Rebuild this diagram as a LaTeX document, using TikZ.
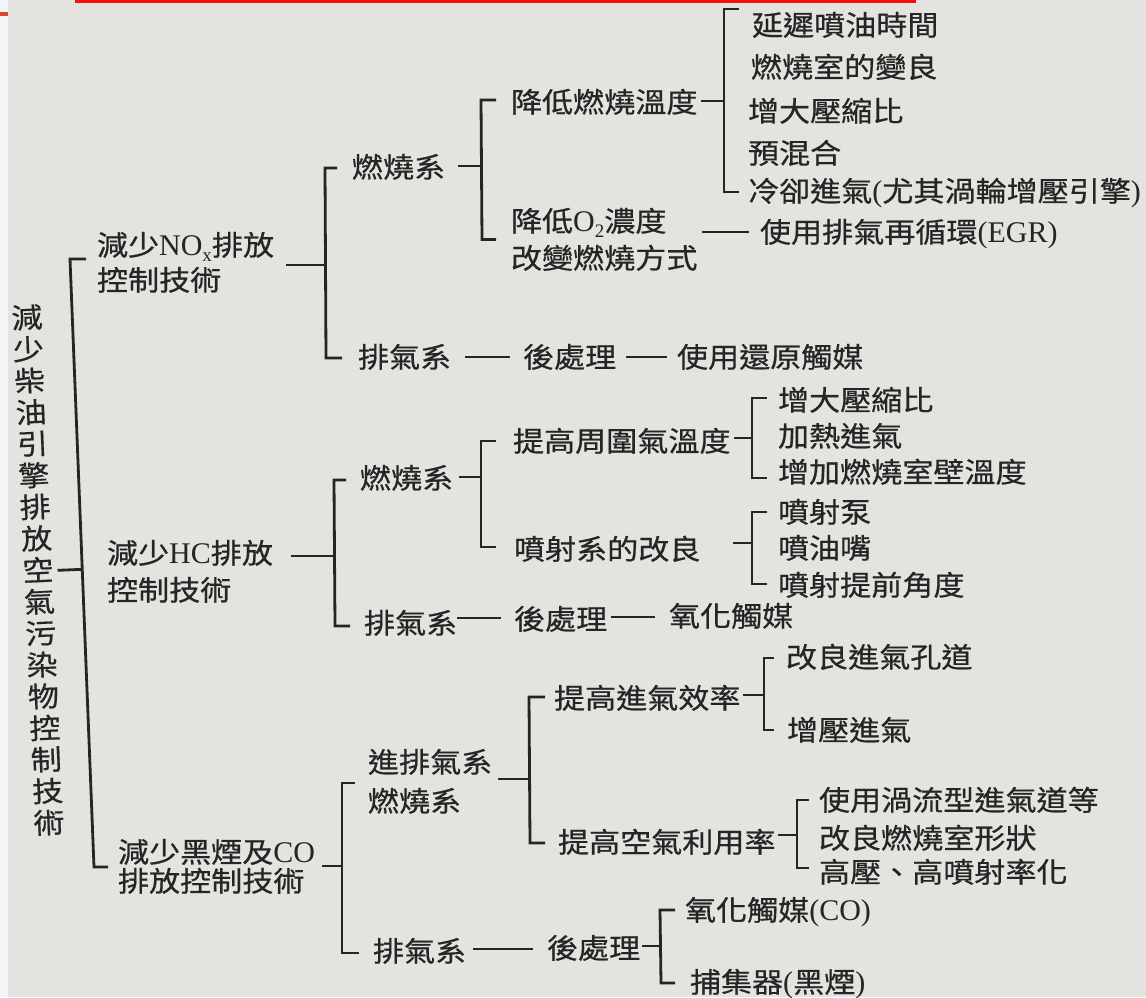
\documentclass[tikz,border=0pt]{standalone}
\usepackage{fontspec}
\setmainfont{Liberation Serif}
\newfontfamily\cjk[FakeStretch=1.11,FakeBold=0.6]{Noto Sans CJK TC}
\usetikzlibrary{calc}
\definecolor{bgc}{HTML}{E4E3DF}
\definecolor{ink}{HTML}{252525}
\definecolor{stripc}{HTML}{F4F4F4}
\definecolor{barred}{HTML}{F21010}
\definecolor{markred}{HTML}{D8472A}
\newcommand\lt[1]{{\rmfamily\fontsize{30}{30}\selectfont #1}}
\newcommand\sbx{\raisebox{-6pt}{\rmfamily\fontsize{19}{19}\selectfont x}}
\newcommand\sbtwo{\raisebox{-6pt}{\rmfamily\fontsize{19}{19}\selectfont 2}}
\begin{document}
\begin{tikzpicture}[x=1pt,y=-1pt,
  lbl/.style={anchor=west,inner sep=0pt,outer sep=0pt,text=ink,
    font=\cjk\fontsize{28}{30}\selectfont,text height=24.5pt,text depth=3.5pt},
  rootlbl/.style={inner sep=0pt,outer sep=0pt,text=ink,align=center,
    font=\cjk\fontsize{28}{31.6}\selectfont,rotate=2.5},
  ln/.style={draw=ink,line width=2.8pt,line join=miter}]
\useasboundingbox (0,0) rectangle (1146,997);
\fill[bgc] (0,0) rectangle (1146,997);
\fill[stripc] (0,0) rectangle (8,997);
\fill[markred] (0,12) rectangle (8,16);
\fill[barred] (75,0) rectangle (916,2.5);

% ---------- root ----------
\node[rootlbl] (R) at (38,570) {減\\少\\柴\\油\\引\\擎\\排\\放\\空\\氣\\污\\染\\物\\控\\制\\技\\術};

% ---------- level 1 ----------
\node[lbl] (nA1) at (97,245) {減少\lt{NO}\sbx 排放};
\node[lbl] (nA2) at (97,280) {控制技術};
\node[lbl] (nB1) at (107,553) {減少\lt{HC}排放};
\node[lbl] (nB2) at (107,590) {控制技術};
\node[lbl] (nC1) at (118,852) {減少黑煙及\lt{CO}};
\node[lbl] (nC2) at (118,881) {排放控制技術};

\coordinate (rt) at (70,259);
\coordinate (rb) at (94,867);
\draw[ln] ($(nA1.west)+(-11,14)$) -- (rt) -- (rb) -- ($(nC1.west)+(-10,15)$);
\coordinate (rm) at ($(R.east)+(4,1)$);
\draw[ln] (rm) -- ($(rt)!(rm)!(rb)$);

% ---------- NOx branch ----------
\node[lbl] (kA) at (352,167) {燃燒系};
\node[lbl] (xA) at (358,357) {排氣系};
\draw[ln] ($(nA1.east)+(12,20)$) -- (325,265);
\draw[ln] ($(kA.west)+(-15,1)$) -- (325,168) -- (326,358) -- ($(xA.west)+(-16,1)$);

\node[lbl] (d1) at (511,102) {降低燃燒溫度};
\node[lbl] (d2) at (511,221) {降低\lt{O}\sbtwo 濃度};
\node[lbl] (d3) at (511,258) {改變燃燒方式};
\draw[ln] ($(kA.east)+(13,-1)$) -- (481,166);
\draw[ln] ($(d1.west)+(-15,-2)$) -- (481,100) -- (482,239.5) -- ($(d2.west)!0.5!(d3.west)+(-15,0)$);

\node[lbl] (e1) at (752,25) {延遲噴油時間};
\node[lbl] (e2) at (751,67) {燃燒室的變良};
\node[lbl] (e3) at (748,111) {增大壓縮比};
\node[lbl] (e4) at (748,153) {預混合};
\node[lbl] (e5) at (748,191) {冷卻進氣\lt{(}尤其渦輪增壓引擎\lt{)}};
\draw[ln] ($(d1.east)+(4,-1)$) -- (724,101);
\draw[ln] ($(e1.west)+(-13,-16)$) -- (724,9) -- (724,192) -- ($(e5.west)+(-9,1)$);

\node[lbl] (egr) at (760,232) {使用排氣再循環\lt{(EGR)}};
\draw[ln] ($(d3.east)+(5,-26)$) -- ($(egr.west)+(-11,0)$);

\node[lbl] (hA) at (523,357) {後處理};
\node[lbl] (cA) at (677,357) {使用還原觸媒};
\draw[ln] ($(xA.east)+(14,0)$) -- ($(hA.west)+(-13,0)$);
\draw[ln] ($(hA.east)+(10,0)$) -- ($(cA.west)+(-10,0)$);

% ---------- HC branch ----------
\node[lbl] (kB) at (360,478) {燃燒系};
\node[lbl] (xB) at (364,623) {排氣系};
\draw[ln] ($(nB1.east)+(18,3)$) -- (334,556);
\draw[ln] ($(kB.west)+(-14,2)$) -- (334,480) -- (335,626) -- ($(xB.west)+(-14,3)$);

\node[lbl] (f1) at (513,441) {提高周圍氣溫度};
\node[lbl] (f2) at (514,549) {噴射系的改良};
\draw[ln] ($(kB.east)+(6,-1)$) -- (481,477);
\draw[ln] ($(f1.west)+(-17,0)$) -- (481,441) -- (481,547) -- ($(f2.west)+(-18,-2)$);

\node[lbl] (g1) at (778,400) {增大壓縮比};
\node[lbl] (g2) at (778,436) {加熱進氣};
\node[lbl] (g3) at (778,472) {增加燃燒室壁溫度};
\draw[ln] ($(f1.east)+(3,-3)$) -- (752,438);
\draw[ln] ($(g1.west)+(-11,-2)$) -- (752,398) -- (752,478) -- ($(g3.west)+(-11,6)$);

\node[lbl] (h1) at (778,512) {噴射泵};
\node[lbl] (h2) at (778,548) {噴油嘴};
\node[lbl] (h3) at (778,585) {噴射提前角度};
\draw[ln] ($(f2.east)+(33,-6)$) -- (752,543);
\draw[ln] ($(h1.west)+(-11,0)$) -- (752,512) -- (752,584) -- ($(h3.west)+(-11,-1)$);

\node[lbl] (hB) at (514,619) {後處理};
\node[lbl] (oB) at (669,616) {氧化觸媒};
\draw[ln] ($(xB.east)+(0,-5)$) -- ($(hB.west)+(-13,-1)$);
\draw[ln] ($(hB.east)+(4,-2)$) -- ($(oB.west)+(-14,1)$);

% ---------- soot / CO branch ----------
\node[lbl] (pC) at (368,762) {進排氣系};
\node[lbl] (pC2) at (368,801) {燃燒系};
\node[lbl] (xC) at (373,951) {排氣系};
\draw[ln] ($(nC1.east)+(7,14)$) -- (342,866);
\draw[ln] ($(pC.west)+(-13,21)$) -- (342,783) -- (342,953) -- ($(xC.west)+(-14,2)$);

\node[lbl] (q1) at (554,698) {提高進氣效率};
\node[lbl] (q2) at (558,842) {提高空氣利用率};
\draw[ln] ($(pC.east)+(6,17)$) -- (529,779);
\draw[ln] ($(q1.west)+(-9,-1)$) -- (529,697) -- (530,843) -- ($(q2.west)+(-13,1)$);

\node[lbl] (r1) at (786,657) {改良進氣孔道};
\node[lbl] (r2) at (787,730) {增壓進氣};
\draw[ln] ($(q1.east)+(3,-3)$) -- (764,695);
\draw[ln] ($(r1.west)+(-12,1)$) -- (764,658) -- (764,730) -- ($(r2.west)+(-13,0)$);

\node[lbl] (s1) at (819,800) {使用渦流型進氣道等};
\node[lbl] (s2) at (819,838) {改良燃燒室形狀};
\node[lbl] (s3) at (819,872) {高壓、高噴射率化};
\draw[ln] ($(q2.east)+(2,-7)$) -- (797,835);
\draw[ln] ($(s1.west)+(-10,0)$) -- (797,800) -- (797,868) -- ($(s3.west)+(-10,-4)$);

\node[lbl] (hC) at (547,948) {後處理};
\node[lbl] (t1) at (685,910) {氧化觸媒\lt{(CO)}};
\node[lbl] (t2) at (690,982) {捕集器\lt{(}黑煙\lt{)}};
\draw[ln] ($(xC.east)+(7,-2)$) -- ($(hC.west)+(-14,1)$);
\draw[ln] ($(hC.east)+(2,-2)$) -- (660,946);
\draw[ln] ($(t1.west)+(-10,0)$) -- (660,910) -- (661,983) -- ($(t2.west)+(-15,1)$);
\end{tikzpicture}
\end{document}
